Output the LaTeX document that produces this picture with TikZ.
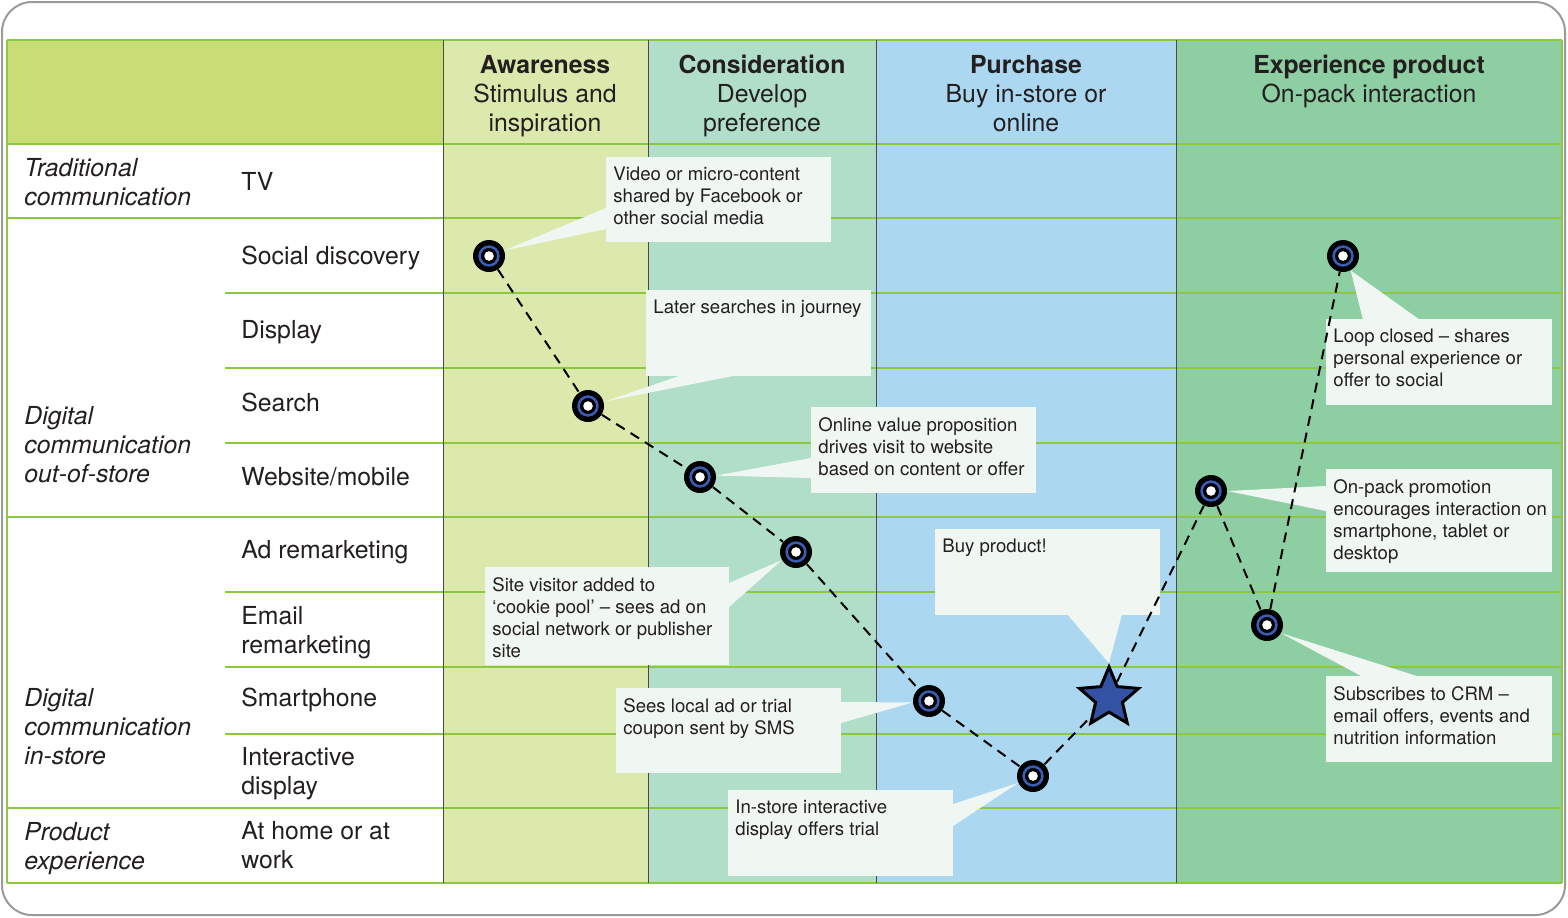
\documentclass[tikz,border=0pt]{standalone}
\usepackage{fontspec}
\setmainfont{TeX Gyre Heros}
\usetikzlibrary{shapes.geometric}

\definecolor{ink}{HTML}{231F20}
\definecolor{gridgreen}{HTML}{8DC63F}
\definecolor{headgreen}{HTML}{C9DD77}
\definecolor{awarecol}{HTML}{DCE9AD}
\definecolor{considcol}{HTML}{B1DEC8}
\definecolor{purchcol}{HTML}{ABD7F0}
\definecolor{expercol}{HTML}{8ECEA3}
\definecolor{notefill}{HTML}{F0F7F2}
\definecolor{ringblue}{HTML}{3A5CB4}
\definecolor{starblue}{HTML}{3352A3}
\definecolor{divgray}{HTML}{4A4A4A}
\definecolor{framegray}{HTML}{9A9A9A}

\newcommand{\rowfont}{\fontsize{12.4}{14.5}\selectfont}
\newcommand{\notefont}{\fontsize{9.3}{11}\selectfont}

\begin{document}
\begin{tikzpicture}[x=0.5pt,y=-0.5pt,
  every node/.append style={text=ink},
  grid line/.style={draw=gridgreen,line width=0.8pt},
  col line/.style={draw=divgray,line width=0.5pt},
  row label/.style={anchor=north west,align=left,font=\rowfont,inner sep=0pt},
  group label/.style={anchor=north west,align=left,font=\rowfont\itshape,inner sep=0pt},
  head label/.style={anchor=north,align=center,font=\rowfont,inner sep=0pt},
  note/.style={fill=notefill,anchor=north west,inner sep=0pt},
  note text/.style={anchor=north west,align=left,font=\notefont,inner sep=0pt,xshift=3.5pt,yshift=-5pt},
  stop node/.style={circle,fill=black,minimum size=16pt,inner sep=0pt,
    path picture={\draw[ringblue,line width=1.3pt] (path picture bounding box.center) circle (4.7pt);
      \fill[white] (path picture bounding box.center) circle (2.4pt);}},
  buy node/.style={star,star points=5,star point ratio=2.2,minimum size=31pt,inner sep=0pt,
    fill=starblue,draw=black,line width=1.5pt},
  journey/.style={dash pattern=on 5pt off 3.5pt,line width=1pt}]

  \useasboundingbox (0,0) rectangle (1568,917);
  \draw[framegray,line width=1pt,rounded corners=15pt] (2,2) rectangle (1565,915);

  % columns
  \fill[headgreen] (7,40) rectangle (443,144);
  \fill[white] (7,144) rectangle (443,883);
  \fill[awarecol] (443,40) rectangle (648,883);
  \fill[considcol] (648,40) rectangle (876,883);
  \fill[purchcol] (876,40) rectangle (1176,883);
  \fill[expercol] (1176,40) rectangle (1562,883);

  \draw[grid line] (7,40) -- (1562,40) (7,144) -- (1562,144) (7,218) -- (1562,218)
    (225,293) -- (1562,293) (225,368) -- (1562,368) (225,443) -- (1562,443)
    (7,517) -- (1562,517) (225,592) -- (1562,592) (225,667) -- (1562,667)
    (225,734) -- (1562,734) (7,808) -- (1562,808) (7,883) -- (1562,883)
    (7,40) -- (7,883) (1562,40) -- (1562,883);
  \draw[col line] (443,40) -- (443,883) (648,40) -- (648,883)
    (876,40) -- (876,883) (1176,40) -- (1176,883);

  \node[head label] (h1) at (545,55) {\textbf{Awareness}\\Stimulus and\\inspiration};
  \node[head label] (h2) at (762,55) {\textbf{Consideration}\\Develop\\preference};
  \node[head label] (h3) at (1026,55) {\textbf{Purchase}\\Buy in-store or\\online};
  \node[head label] (h4) at (1369,55) {\textbf{Experience product}\\On-pack interaction};

  \node[group label] (g1) at (24,158) {Traditional\\communication};
  \node[group label] (g2) at (24,406) {Digital\\communication\\out-of-store};
  \node[group label] (g3) at (24,688) {Digital\\communication\\in-store};
  \node[group label] (g4) at (24,822) {Product\\experience};

  \node[row label] (r1) at (241,172) {TV};
  \node[row label] (r2) at (241,246) {Social discovery};
  \node[row label] (r3) at (241,320) {Display};
  \node[row label] (r4) at (241,393) {Search};
  \node[row label] (r5) at (241,467) {Website/mobile};
  \node[row label] (r6) at (241,540) {Ad remarketing};
  \node[row label] (r7) at (241,606) {Email\\remarketing};
  \node[row label] (r8) at (241,688) {Smartphone};
  \node[row label] (r9) at (241,747) {Interactive\\display};
  \node[row label] (r10) at (241,821) {At home or at\\work};

  % journey stops
  \node[stop node] (s1) at (489,256) {};
  \node[stop node] (s2) at (588,406) {};
  \node[stop node] (s3) at (700,477) {};
  \node[stop node] (s4) at (796,552) {};
  \node[stop node] (s5) at (929,701) {};
  \node[stop node] (s6) at (1033,776) {};
  \node[buy node] (buy) at (1109,698) {};
  \node[stop node] (s8) at (1211,491) {};
  \node[stop node] (s9) at (1267,625) {};
  \node[stop node] (s10) at (1343,256) {};

  % callouts
  \node[note,minimum width=112.5pt,minimum height=42.5pt] (n1) at (606,157) {};
  \node[note,minimum width=112.5pt,minimum height=43pt] (n2) at (646,290) {};
  \node[note,minimum width=112.5pt,minimum height=43pt] (n3) at (811,407) {};
  \node[note,minimum width=122pt,minimum height=49pt] (n4) at (485,567) {};
  \node[note,minimum width=112.5pt,minimum height=42.5pt] (n5) at (616,688) {};
  \node[note,minimum width=112.5pt,minimum height=43pt] (n6) at (728,790) {};
  \node[note,minimum width=112.5pt,minimum height=43pt] (n7) at (935,529) {};
  \node[note,minimum width=113pt,minimum height=43pt] (n8) at (1326,319) {};
  \node[note,minimum width=113pt,minimum height=51.5pt] (n9) at (1326,469) {};
  \node[note,minimum width=113pt,minimum height=43pt] (n10) at (1326,676) {};

  \fill[notefill] (s1.20) -- (606,208) -- (606,229) -- cycle;
  \fill[notefill] (s2.15) -- (682,375) -- (738,375) -- cycle;
  \fill[notefill] (s3.5) -- (811,458) -- (811,478) -- cycle;
  \fill[notefill] (s4.210) -- (729,583) -- (729,607) -- cycle;
  \fill[notefill] (s5.185) -- (841,702) -- (841,723) -- cycle;
  \fill[notefill] (s6.205) -- (953,804) -- (953,826) -- cycle;
  \fill[notefill] (buy.outer point 1) -- (1067,614) -- (1122,614) -- cycle;
  \fill[notefill] (s10.-62) -- (1363,320) -- (1420,320) -- cycle;
  \fill[notefill] (s8.0) -- (1326,486) -- (1326,511) -- cycle;
  \fill[notefill] (s9.-30) -- (1363,677) -- (1420,677) -- cycle;

  \node[note text] (t1) at (n1.north west) {Video or micro-content\\shared by Facebook or\\other social media};
  \node[note text] (t2) at (n2.north west) {Later searches in journey};
  \node[note text] (t3) at (n3.north west) {Online value proposition\\drives visit to website\\based on content or offer};
  \node[note text] (t4) at (n4.north west) {Site visitor added to\\‘cookie pool’ – sees ad on\\social network or publisher\\site};
  \node[note text] (t5) at (n5.north west) {Sees local ad or trial\\coupon sent by SMS};
  \node[note text] (t6) at (n6.north west) {In-store interactive\\display offers trial};
  \node[note text] (t7) at (n7.north west) {Buy product!};
  \node[note text] (t8) at (n8.north west) {Loop closed – shares\\personal experience or\\offer to social};
  \node[note text] (t9) at (n9.north west) {On-pack promotion\\encourages interaction on\\smartphone, tablet or\\desktop};
  \node[note text] (t10) at (n10.north west) {Subscribes to CRM –\\email offers, events and\\nutrition information};

  \draw[journey] (s1) -- (s2) -- (s3) -- (s4) -- (s5) -- (s6) -- (buy) -- (s8) -- (s9) -- (s10);
\end{tikzpicture}
\end{document}
